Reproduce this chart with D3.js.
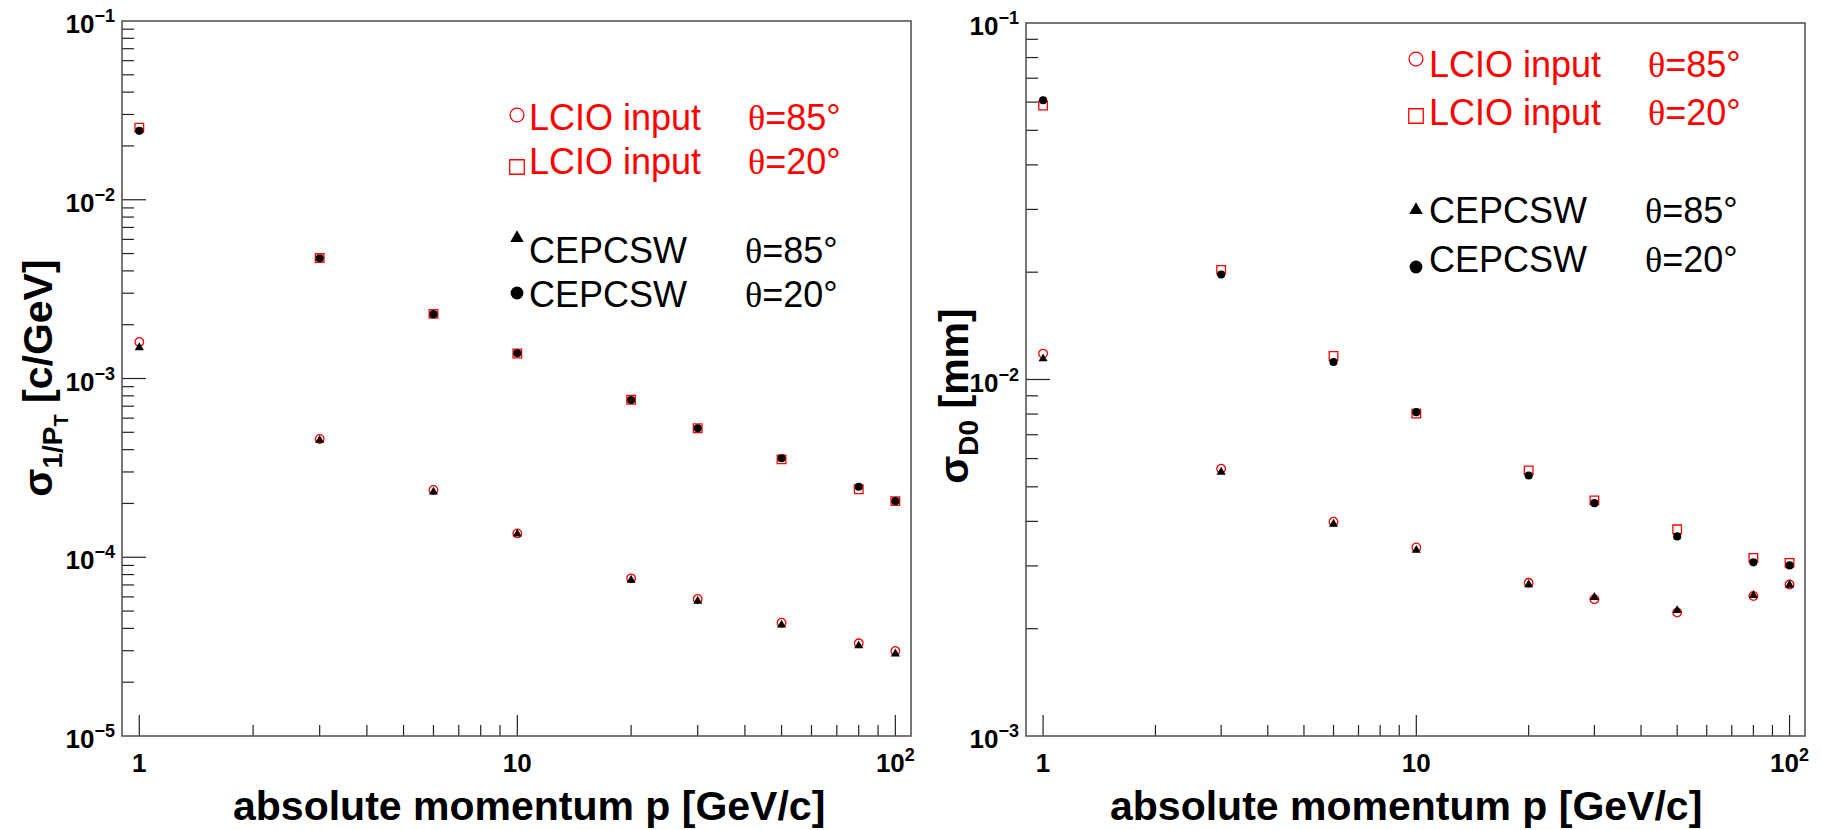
<!DOCTYPE html>
<html lang="en">
<head>
<meta charset="UTF-8" />
<title>Track parameter resolution vs momentum</title>
<script src="https://d3js.org/d3.v7.min.js"></script>
<style>
  body { margin: 0; background: #fff; }
  svg text { font-family: "Liberation Sans", Arial, sans-serif; }
  .tick-label { font-weight: bold; font-size: 26px; }
  .axis-title { font-weight: bold; font-size: 41px; }
  .legend-text { font-size: 36px; }
  .theta { font-family: "Liberation Serif", "DejaVu Serif", serif; }
</style>
</head>
<body>
<svg id="chart" width="1822" height="830"></svg>
<script>
// momentum points (GeV/c)
const momentum = [1, 3, 6, 10, 20, 30, 50, 80, 100];

// sigma(1/pT) [c/GeV]
const ptLcio85 = [1.60e-3, 4.59e-4, 2.38e-4, 1.36e-4, 7.62e-5, 5.84e-5, 4.30e-5, 3.30e-5, 2.99e-5];
const ptLcio20 = [2.53e-2, 4.72e-3, 2.30e-3, 1.38e-3, 7.60e-4, 5.27e-4, 3.53e-4, 2.40e-4, 2.06e-4];
const ptCepc85 = [1.49e-3, 4.52e-4, 2.32e-4, 1.35e-4, 7.46e-5, 5.69e-5, 4.18e-5, 3.20e-5, 2.88e-5];
const ptCepc20 = [2.43e-2, 4.70e-3, 2.29e-3, 1.384e-3, 7.58e-4, 5.27e-4, 3.58e-4, 2.48e-4, 2.06e-4];

// sigma(D0) [mm]
const d0Lcio85 = [1.182e-2, 5.62e-3, 3.99e-3, 3.38e-3, 2.69e-3, 2.42e-3, 2.22e-3, 2.47e-3, 2.66e-3];
const d0Lcio20 = [5.87e-2, 2.03e-2, 1.164e-2, 8.02e-3, 5.56e-3, 4.58e-3, 3.80e-3, 3.16e-3, 3.06e-3];
const d0Cepc85 = [1.144e-2, 5.50e-3, 3.93e-3, 3.32e-3, 2.66e-3, 2.45e-3, 2.25e-3, 2.48e-3, 2.65e-3];
const d0Cepc20 = [6.07e-2, 1.97e-2, 1.12e-2, 8.10e-3, 5.38e-3, 4.50e-3, 3.63e-3, 3.07e-3, 3.01e-3];

// axis ranges and tick labels
const xDomain = [0.9, 110];
const xTickLabels = [{ value: 1, text: "1" }, { value: 10, text: "10" }, { value: 100, text: "10", sup: "2" }];
const ptTickExps = [-5, -4, -3, -2, -1];
const d0TickExps = [-3, -2, -1];

// legend entries
const legendNames = ["LCIO input", "LCIO input", "CEPCSW", "CEPCSW"];
const legendAngles = ["=85°", "=20°", "=85°", "=20°"];
const legendColors = ["#ff0000", "#ff0000", "#000000", "#000000"];

const xTitle = "absolute momentum p [GeV/c]";

const seriesStyle = [
  { symbol: d3.symbolCircle, size: 58, legendSize: 150, fill: "none", stroke: "#ff0000" },
  { symbol: d3.symbolSquare, size: 74, legendSize: 210, fill: "none", stroke: "#ff0000" },
  { symbol: d3.symbolTriangle, size: 36, legendSize: 80, fill: "#000", stroke: "none" },
  { symbol: d3.symbolCircle, size: 52, legendSize: 130, fill: "#000", stroke: "none" }
];

const panels = [
  {
    frame: { x0: 122, x1: 911, y0: 21, y1: 736 },
    yDomain: [1e-5, 1e-1],
    tickExps: ptTickExps,
    series: [ptLcio85, ptLcio20, ptCepc85, ptCepc20],
    yTitle: { main: "σ", sub: "1/P", subsub: "T", rest: " [c/GeV]", x: 52, cy: 378 },
    xTitleX: 233,
    legend: { markerX: 517, textX: 529, thetaX: [748, 748, 745, 745], rows: [130, 174, 263, 307], markerDy: [-15, -7, -25, -14] }
  },
  {
    frame: { x0: 1026, x1: 1805, y0: 23, y1: 736 },
    yDomain: [1e-3, 1e-1],
    tickExps: d0TickExps,
    series: [d0Lcio85, d0Lcio20, d0Cepc85, d0Cepc20],
    yTitle: { main: "σ", sub: "D0", subsub: null, rest: " [mm]", x: 968, cy: 396 },
    xTitleX: 1110,
    legend: { markerX: 1416, textX: 1429, thetaX: [1648, 1648, 1645, 1645], rows: [77, 125, 223, 272], markerDy: [-18, -9, -13, -5] }
  }
];

const svg = d3.select("#chart");
const isMajor = t => Math.abs(Math.log10(t) - Math.round(Math.log10(t))) < 1e-6;

panels.forEach(p => {
  const f = p.frame;
  const x = d3.scaleLog().domain(xDomain).range([f.x0, f.x1]);
  const y = d3.scaleLog().domain(p.yDomain).range([f.y1, f.y0]);
  const g = svg.append("g");

  // y ticks (inside, left axis only)
  const yTicks = y.ticks().filter(t => t > p.yDomain[0] * 1.0001 && t < p.yDomain[1] * 0.9999);
  g.selectAll(null).data(yTicks).join("line")
    .attr("x1", f.x0).attr("x2", t => f.x0 + (isMajor(t) ? 24 : 12))
    .attr("y1", t => y(t)).attr("y2", t => y(t))
    .attr("stroke", "#222").attr("stroke-width", 1.2);

  // x ticks (inside, bottom axis only)
  const xTicks = x.ticks().filter(t => t > xDomain[0] * 1.001 && t < xDomain[1] * 0.999);
  g.selectAll(null).data(xTicks).join("line")
    .attr("x1", t => x(t)).attr("x2", t => x(t))
    .attr("y1", f.y1).attr("y2", t => f.y1 - (isMajor(t) ? 21 : 11))
    .attr("stroke", "#222").attr("stroke-width", 1.2);

  // frame
  g.append("rect")
    .attr("x", f.x0).attr("y", f.y0)
    .attr("width", f.x1 - f.x0).attr("height", f.y1 - f.y0)
    .attr("fill", "none").attr("stroke", "#555").attr("stroke-width", 1.6);

  // y tick labels
  g.selectAll(null).data(p.tickExps).join("text")
    .attr("class", "tick-label")
    .attr("x", f.x0 - 7).attr("y", e => y(Math.pow(10, e)) + 12)
    .attr("text-anchor", "end")
    .each(function (e) {
      const t = d3.select(this);
      t.append("tspan").text("10");
      t.append("tspan").attr("font-size", 18).attr("dy", -11).text("\u2212" + Math.abs(e));
    });

  // x tick labels
  g.selectAll(null).data(xTickLabels).join("text")
    .attr("class", "tick-label")
    .attr("x", d => x(d.value)).attr("y", 772)
    .attr("text-anchor", "middle")
    .each(function (d) {
      const t = d3.select(this);
      t.append("tspan").text(d.text);
      if (d.sup) t.append("tspan").attr("font-size", 18).attr("dy", -11).text(d.sup);
    });

  // x title
  g.append("text").attr("class", "axis-title")
    .attr("x", p.xTitleX).attr("y", 820)
    .text(xTitle);

  // y title
  const yt = g.append("text").attr("class", "axis-title")
    .attr("transform", `translate(${p.yTitle.x},${p.yTitle.cy}) rotate(-90)`)
    .attr("text-anchor", "middle");
  yt.append("tspan").text(p.yTitle.main);
  yt.append("tspan").attr("font-size", 28).attr("dy", 10).text(p.yTitle.sub);
  if (p.yTitle.subsub) {
    yt.append("tspan").attr("font-size", 20).attr("dy", 6).text(p.yTitle.subsub);
    yt.append("tspan").attr("dy", -16).text(p.yTitle.rest);
  } else {
    yt.append("tspan").attr("dy", -10).text(p.yTitle.rest);
  }

  // data markers
  p.series.forEach((vals, si) => {
    const st = seriesStyle[si];
    const sym = d3.symbol().type(st.symbol).size(st.size);
    g.selectAll(null).data(vals).join("path")
      .attr("d", sym)
      .attr("transform", (v, i) => `translate(${x(momentum[i])},${y(v)})`)
      .attr("fill", st.fill).attr("stroke", st.stroke).attr("stroke-width", 1.3);
  });

  // legend
  const L = p.legend;
  legendNames.forEach((name, i) => {
    const st = seriesStyle[i];
    g.append("path")
      .attr("d", d3.symbol().type(st.symbol).size(st.legendSize))
      .attr("transform", `translate(${L.markerX},${L.rows[i] + L.markerDy[i]})`)
      .attr("fill", st.fill).attr("stroke", st.stroke).attr("stroke-width", 1.3);
    g.append("text").attr("class", "legend-text")
      .attr("x", L.textX).attr("y", L.rows[i])
      .attr("fill", legendColors[i]).text(name);
    const th = g.append("text").attr("class", "legend-text")
      .attr("x", L.thetaX[i]).attr("y", L.rows[i])
      .attr("fill", legendColors[i]);
    th.append("tspan").attr("class", "theta").text("θ");
    th.append("tspan").text(legendAngles[i]);
  });
});
</script>
</body>
</html>
